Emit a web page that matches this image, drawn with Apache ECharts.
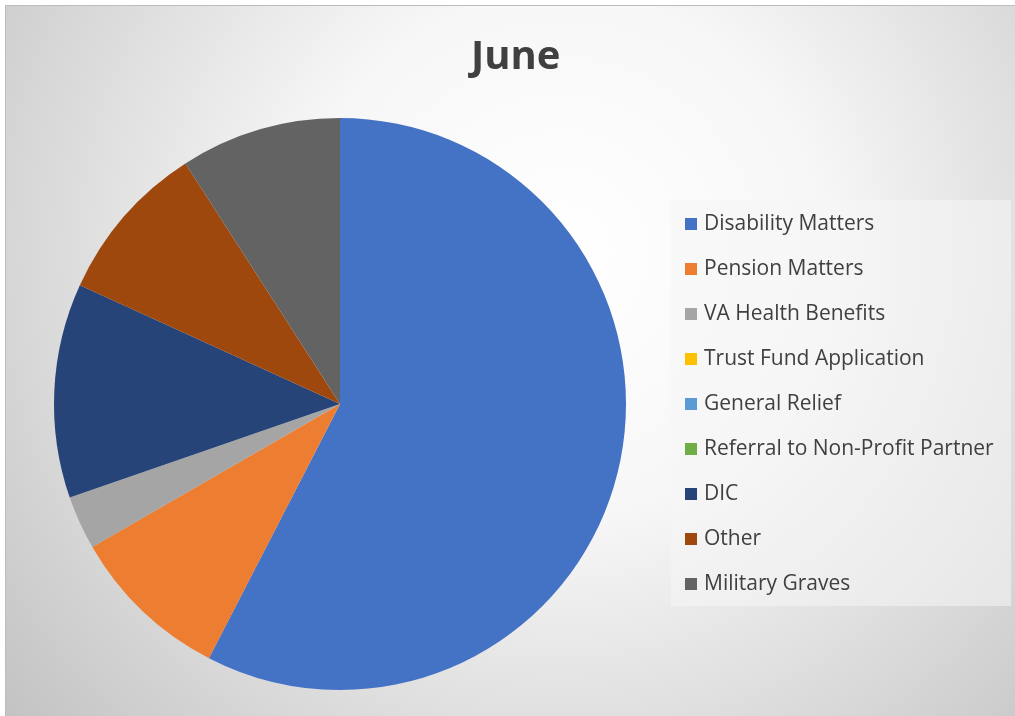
<!DOCTYPE html>
<html>
<head>
<meta charset="utf-8">
<script src="https://cdn.jsdelivr.net/npm/echarts@6/dist/echarts.min.js"></script>
<style>
html,body{margin:0;padding:0;background:#ffffff;}
#chart{position:absolute;left:5px;top:5px;width:1010px;height:711px;box-sizing:border-box;border-left:1px solid #bdbdbd;border-top:1px solid #bdbdbd;}
</style>
</head>
<body>
<div id="chart"></div>
<script>
const title = 'June';
const categories = ['Disability Matters','Pension Matters','VA Health Benefits','Trust Fund Application','General Relief','Referral to Non-Profit Partner','DIC','Other','Military Graves'];
const values = [19, 3, 1, 0, 0, 0, 4, 3, 3];
const colors = ['#4472C4','#ED7D31','#A5A5A5','#FFC000','#5B9BD5','#70AD47','#264478','#9E480E','#636363'];

const chart = echarts.init(document.getElementById('chart'), null, {renderer:'canvas'});
chart.setOption({
  animation:false,
  backgroundColor:{type:'radial', x:0.55, y:0.35, r:1.05, colorStops:[
    {offset:0, color:'#ffffff'},
    {offset:0.35, color:'#f7f7f7'},
    {offset:1, color:'#c0c0c0'}
  ]},
  color: colors,
  title:{text:title, left:460, top:27,
    textStyle:{fontFamily:'Open Sans', fontWeight:'bold', fontSize:40, color:'#404040'}},
  graphic:[{type:'rect', left:665, top:194, shape:{width:340, height:406},
    style:{fill:'rgba(245,245,245,0.55)'}, silent:true}],
  legend:{orient:'vertical', left:674, top:201, itemWidth:12, itemHeight:12, itemGap:21,
    icon:'rect', selectedMode:false,
    textStyle:{fontFamily:'Open Sans', fontSize:21, color:'#404040', lineHeight:24, padding:[0,0,0,2]},
    data:categories},
  series:[{type:'pie', center:[334,398], radius:286, startAngle:90, clockwise:true,
    label:{show:false}, labelLine:{show:false}, avoidLabelOverlap:false,
    itemStyle:{borderWidth:0},
    emphasis:{disabled:true},
    data: categories.map((c,i)=>({name:c, value:values[i]}))}]
});
</script>
</body>
</html>
